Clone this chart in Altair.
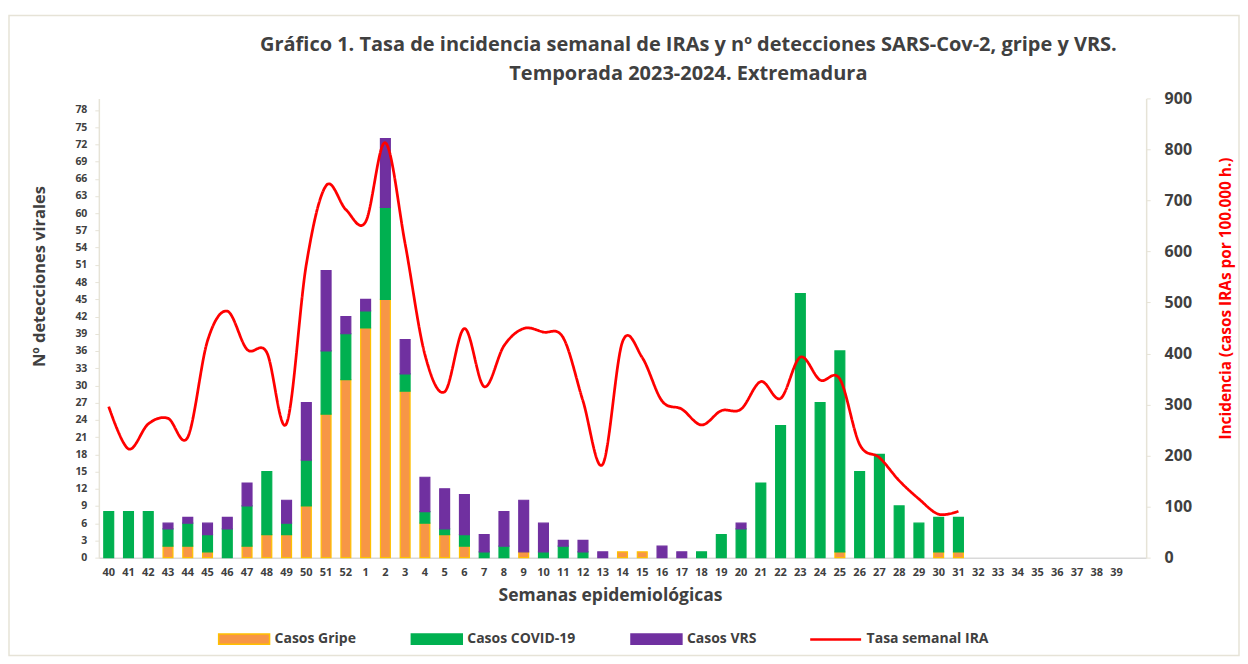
import altair as alt
import pandas as pd

# ---------------- data ----------------
semanas = [str(w) for w in range(40, 53)] + [str(w) for w in range(1, 40)]
dominio_x = semanas + [" "]
semanas_datos = semanas[:44]  # 40 ... 31

gripe = [0, 0, 0, 2, 2, 1, 0, 2, 4, 4, 9, 25, 31,
         40, 45, 29, 6, 4, 2, 0, 0, 1, 0, 0, 0, 0, 1, 1, 0, 0, 0, 0, 0, 0, 0, 0, 0, 1, 0, 0, 0, 0, 1, 1]
covid = [8, 8, 8, 3, 4, 3, 5, 7, 11, 2, 8, 11, 8,
         3, 16, 3, 2, 1, 2, 1, 2, 0, 1, 2, 1, 0, 0, 0, 0, 0, 1, 4, 5, 13, 23, 46, 27, 35, 15, 18, 9, 6, 6, 6]
vrs = [0, 0, 0, 1, 1, 2, 2, 4, 0, 4, 10, 14, 3,
       2, 12, 6, 6, 7, 7, 3, 6, 9, 5, 1, 2, 1, 0, 0, 2, 1, 0, 0, 1, 0, 0, 0, 0, 0, 0, 0, 0, 0, 0, 0]
tasa = [296, 213, 262, 273, 236, 425, 483, 408, 402, 263, 575, 729, 682,
        658, 813, 615, 398, 325, 449, 335, 415, 449, 442, 431, 307, 183, 423, 392, 307, 291, 260,
        288, 291, 345, 312, 393, 348, 350, 222, 196, 151, 115, 85, 91]

tipos = ["Casos Gripe", "Casos COVID-19", "Casos VRS"]
colores = ["#F79646", "#00B050", "#7030A0"]
bordes = ["#FFC000", "#00B050", "#7030A0"]
serie_linea = "Tasa semanal IRA"

filas = []
for i, s in enumerate(semanas_datos):
    for k, (t, serie) in enumerate(zip(tipos, [gripe, covid, vrs])):
        if serie[i] > 0:
            filas.append({"semana": s, "tipo": t, "casos": serie[i], "orden": k})
df_barras = pd.DataFrame(filas)
df_linea = pd.DataFrame({"semana": semanas_datos, "tasa": tasa, "serie": serie_linea})

TXT = "#404040"
BEIGE = "#E6E3D7"
FONT = "Open Sans"

x_scale = alt.Scale(domain=dominio_x, paddingInner=0.5, paddingOuter=0.25)

leyenda_barras = alt.Legend(
    title=None, orient="none", direction="horizontal", legendX=119, legendY=515,
    symbolType="M-1,-0.2H1V0.2H-1Z", symbolSize=2601, symbolStrokeWidth=1.5, symbolOpacity=1,
    labelFont=FONT, labelFontSize=14, labelFontWeight="bold", labelColor=TXT,
    labelOffset=4, columnPadding=52,
)

barras = alt.Chart(df_barras).mark_bar(strokeWidth=1.2, opacity=1).encode(
    x=alt.X("semana:N", sort=dominio_x, scale=x_scale,
            axis=alt.Axis(labelAngle=0, labelFont=FONT, labelFontSize=11, labelFontWeight="bold",
                          labelColor=TXT, ticks=False, domainColor="#D9D9D9", domainWidth=1.5,
                          labelPadding=9, title="Semanas epidemiológicas", titleFont=FONT,
                          titleFontSize=17.5, titleFontWeight="bold", titleColor=TXT,
                          titlePadding=9, titleX=512)),
    y=alt.Y("casos:Q", stack="zero", scale=alt.Scale(domain=[0, 80], nice=False),
            axis=alt.Axis(values=list(range(0, 79, 3)), title="Nº detecciones virales",
                          titleFont=FONT, titleFontSize=16.5, titleFontWeight="bold", titleColor=TXT,
                          titleAngle=270, titleBaseline="bottom", titlePadding=27, titleY=178,
                          labelFont=FONT, labelFontSize=10.5, labelFontWeight="bold", labelColor=TXT,
                          labelPadding=8, tickSize=4, tickColor=BEIGE, domainColor=BEIGE,
                          domainWidth=1.5, grid=False)),
    color=alt.Color("tipo:N", scale=alt.Scale(domain=tipos, range=colores), legend=leyenda_barras),
    stroke=alt.Stroke("tipo:N", scale=alt.Scale(domain=tipos, range=bordes), legend=leyenda_barras),
    order=alt.Order("orden:Q", sort="ascending"),
)

linea = alt.Chart(df_linea).mark_line(color="#FF0000", strokeWidth=2.75, interpolate="cardinal").encode(
    x=alt.X("semana:N", sort=dominio_x, scale=x_scale),
    y=alt.Y("tasa:Q", scale=alt.Scale(domain=[0, 900], nice=False),
            axis=alt.Axis(orient="right", values=list(range(0, 901, 100)),
                          title="Incidencia (casos IRAs por 100.000 h.)", titleFont=FONT,
                          titleFontSize=15.4, titleFontWeight="bold", titleColor="#FF0000",
                          titleAngle=270, titleBaseline="top", titlePadding=27, titleY=200,
                          labelFont=FONT, labelFontSize=16, labelFontWeight="bold", labelColor=TXT,
                          labelPadding=14, tickSize=4, tickColor=BEIGE, domainColor=BEIGE,
                          domainWidth=1.5, grid=False)),
    strokeDash=alt.StrokeDash("serie:N", scale=alt.Scale(domain=[serie_linea], range=[[1, 0]]),
                              legend=alt.Legend(title=None, orient="none", legendX=711, legendY=515,
                                                symbolType="stroke", symbolSize=2601,
                                                symbolStrokeWidth=2.5, symbolStrokeColor="#FF0000",
                                                labelFont=FONT, labelFontSize=14,
                                                labelFontWeight="bold", labelColor=TXT, labelOffset=4)),
)

marco = alt.Chart(pd.DataFrame({"m": [0]})).mark_rect(
    fillOpacity=0, stroke=BEIGE, strokeWidth=1.5
).encode(x=alt.value(-90), x2=alt.value(1142), y=alt.value(-83), y2=alt.value(558))

chart = alt.layer(marco, barras, linea).resolve_scale(
    y="independent", strokeDash="independent"
).properties(
    width=1049, height=460,
    padding={"left": 0, "top": 6, "right": 0, "bottom": 0},
    title=alt.TitleParams(
        text=["Gráfico 1. Tasa de incidencia semanal de IRAs y nº detecciones SARS-Cov-2, gripe y VRS.",
              "Temporada 2023-2024. Extremadura"],
        font=FONT, fontSize=20, fontWeight="bold", color=TXT, anchor="middle",
        dx=66, offset=-69, lineHeight=29,
    ),
).configure_view(stroke=None)

chart.save("out.html", embed_options={"renderer": "svg", "actions": False})
